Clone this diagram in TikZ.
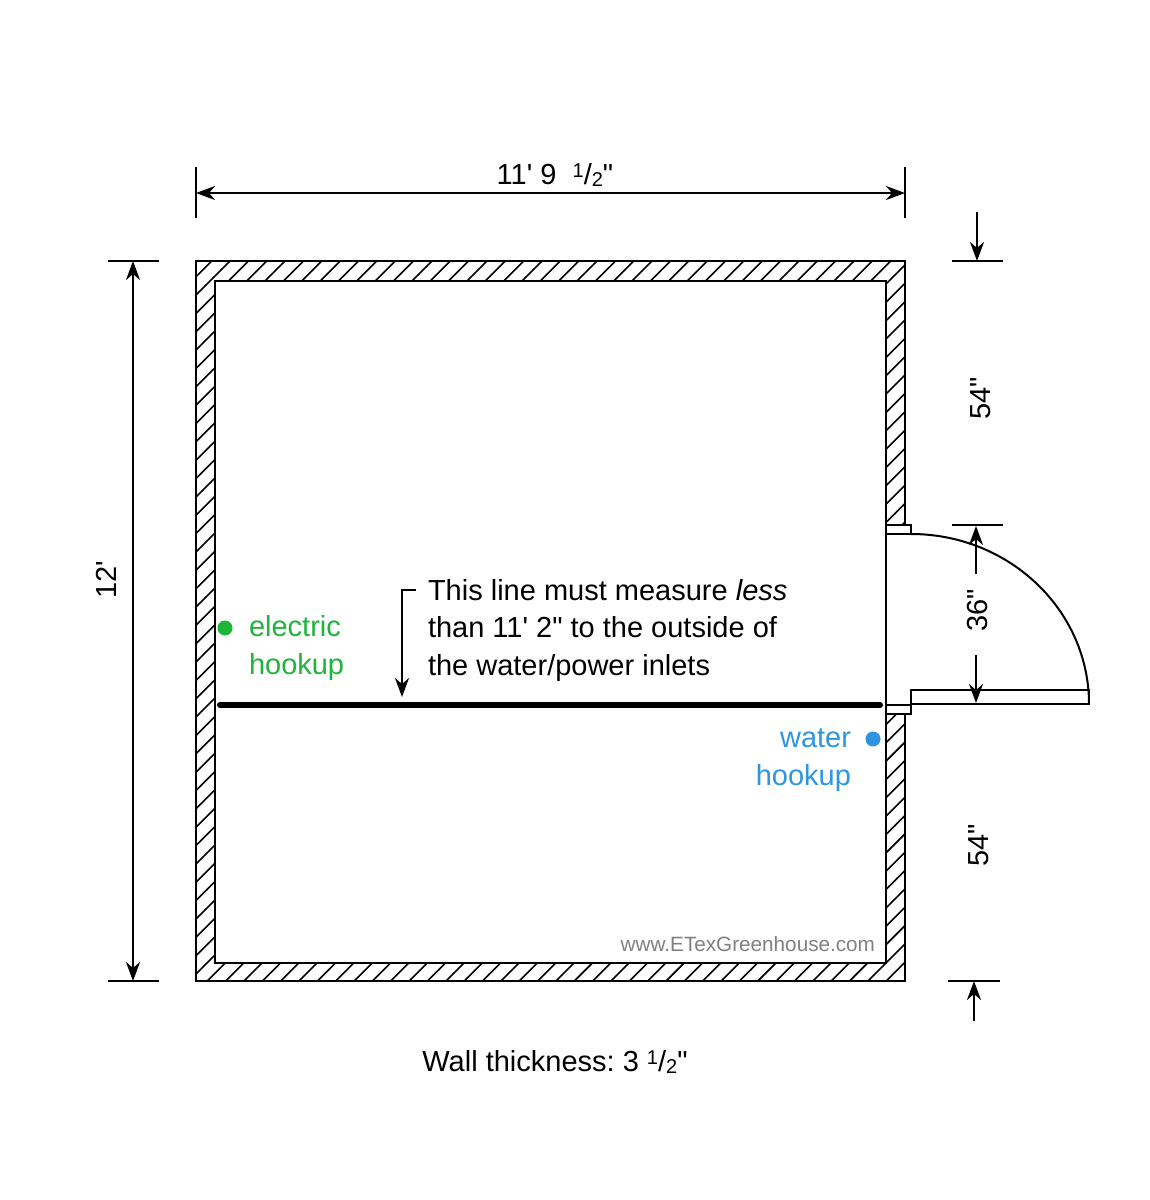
\documentclass[tikz,border=0pt]{standalone}
\usepackage{fontspec}
\setmainfont{Liberation Sans}[Ligatures=TeXOff]
\usetikzlibrary{arrows.meta}
\definecolor{hookgreen}{HTML}{1FB53A}
\definecolor{hookblue}{HTML}{2F95E0}
\newcommand{\halffrac}{\raisebox{.24em}{\fontsize{20}{20}\selectfont 1}/\raisebox{-.08em}{\fontsize{20}{20}\selectfont 2}}

\begin{document}
\frenchspacing
\begin{tikzpicture} [
    x=1pt,
    y=-1pt,
    line width=2pt,
  ]

  \tikzstyle{dimone} = [
    -{Stealth[length=19pt,width=14pt,inset=6pt]},
  ]
  \tikzstyle{dimboth} = [
    {Stealth[length=19pt,width=14pt,inset=6pt]}-{Stealth[length=19pt,width=14pt,inset=6pt]},
  ]
  \tikzstyle{lbl} = [
    inner sep=0pt,
    font=\fontsize{29}{37.5}\selectfont,
  ]
  \tikzstyle{hookup} = [
    circle,
    inner sep=0pt,
    minimum size=15pt,
  ]

  \useasboundingbox[fill=white] (0,0) rectangle (1150,1200);

  % hatching of the walls
  \begin{scope}
    \clip (196,261) -- (905,261) -- (905,525) -- (886,525) -- (886,281) -- (215,281)
      -- (215,963) -- (886,963) -- (886,714) -- (905,714) -- (905,981) -- (196,981) -- cycle;
    \foreach \i in {-1,...,78}
      \draw[line width=1.6pt] ({472.7+18.35*\i-241},241) -- ({472.7+18.35*\i-1001},1001);
  \end{scope}

  % walls
  \draw (905,525) -- (905,261) -- (196,261) -- (196,981) -- (905,981) -- (905,714);
  \draw (886,525) -- (886,281) -- (215,281) -- (215,963) -- (886,963) -- (886,714);
  \draw (886,525) -- (886,714);

  % door
  \draw (886,525) rectangle (911,534);
  \draw (886,705) rectangle (911,714);
  \draw (911,705) -- (911,690) -- (1089,690) -- (1089,704) -- (911,704);
  \draw (911,534) .. controls (1009,534) and (1089,610) .. (1089,704);

  \coordinate (topl)  at (196,193);
  \coordinate (topr)  at (905,193);
  \coordinate (leftt) at (133,261);
  \coordinate (leftb) at (133,981);
  \coordinate (a1)    at (977,212);
  \coordinate (a2)    at (977,261);
  \coordinate (b1)    at (976,574);
  \coordinate (b2)    at (976,526);
  \coordinate (c1)    at (976,655);
  \coordinate (c2)    at (976,703);
  \coordinate (d1)    at (974,1021);
  \coordinate (d2)    at (974,981);
  \coordinate (note)  at (416,590);
  \coordinate (noteb) at (402,697);

  % dimension lines
  \draw (196,167) -- (196,218);
  \draw (905,167) -- (905,218);
  \draw (108,261) -- (159,261);
  \draw (108,981) -- (159,981);
  \draw (952,261) -- (1003,261);
  \draw (952,525) -- (1003,525);
  \draw (948,981) -- (1000,981);

  \draw[dimboth] (topl) -- (topr);
  \draw[dimboth] (leftt) -- (leftb);
  \draw[dimone] (a1) -- (a2);
  \draw[dimone] (b1) -- (b2);
  \draw[dimone] (c1) -- (c2);
  \draw[dimone] (d1) -- (d2);
  \draw[dimone] (note) -| (noteb);

  % line to measure
  \draw[line width=6pt,line cap=round] (220,705) -- (880,705);

  \node[hookup,fill=hookgreen] (elecdot)  at (225,628) {};
  \node[hookup,fill=hookblue]  (waterdot) at (873,739) {};

  \node[lbl,anchor=base]              (width)  at (555,184)  {11' 9 \ \halffrac"};
  \node[lbl,rotate=90]                (height) at (106,580)  {12'};
  \node[lbl,rotate=90]                (upper)  at (981,398)  {54"};
  \node[lbl,rotate=90]                (door)   at (978,610)  {36"};
  \node[lbl,rotate=90]                (lower)  at (979,845)  {54"};
  \node[lbl,anchor=base west,align=left] (text) at (427,675) {This line must measure \textit{less}\\than 11' 2" to the outside of\\the water/power inlets};
  \node[lbl,anchor=base west,align=left,text=hookgreen] (elec) at (248,674) {electric\\hookup};
  \node[lbl,anchor=base east,align=right,text=hookblue] (water) at (852,785) {water\\hookup};
  \node[inner sep=0pt,anchor=base east,font=\fontsize{20.7}{24}\selectfont,text=black!50] (mark) at (876,951) {www.ETexGreenhouse.com};
  \node[lbl,anchor=base] (wall) at (555,1071) {Wall thickness: 3 \halffrac"};

\end{tikzpicture}
\end{document}
